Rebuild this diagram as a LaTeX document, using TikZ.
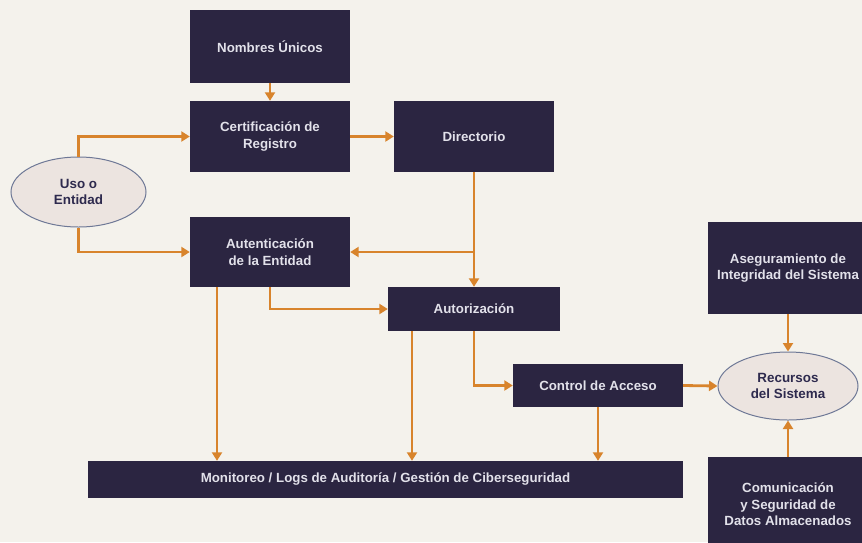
\documentclass[tikz,border=0pt]{standalone}
\usepackage{fontspec}
\setmainfont{Liberation Sans}
\usetikzlibrary{arrows.meta,shapes.geometric,calc}
\definecolor{paper}{HTML}{F4F2EC}
\definecolor{boxfill}{HTML}{2B2541}
\definecolor{boxtext}{HTML}{E2E1EA}
\definecolor{flow}{HTML}{D8842C}
\definecolor{ovalfill}{HTML}{ECE4E0}
\definecolor{ovalline}{HTML}{6E7896}
\definecolor{ovaltext}{HTML}{2E2A4E}
\tikzset{
  x=1pt, y=-1pt,
  darkbox/.style={draw=none, fill=boxfill, text=boxtext, align=center,
    font=\bfseries\fontsize{13.3}{16.5}\selectfont, inner sep=0pt},
  oval/.style={ellipse, draw=ovalline, line width=1pt, fill=ovalfill,
    text=ovaltext, align=center, inner sep=0pt,
    font=\bfseries\fontsize{13.4}{16.5}\selectfont},
  flowline/.style={draw=flow, line width=2.8pt},
  flowarrow/.style={flowline, -{Triangle[length=8.5pt,width=10pt]}},
}
\begin{document}
\begin{tikzpicture}
\fill[paper] (0,0) rectangle (862,542);
\useasboundingbox (0,0) rectangle (862,542);

% boxes
\node[darkbox, minimum width=160, minimum height=73] (nom) at (270,46.5) {Nombres Únicos};
\node[darkbox, minimum width=160, minimum height=71] (cert) at (270,136.5) {Certificación de\\Registro};
\node[darkbox, minimum width=160, minimum height=71] (dir) at (474,136.5) {Directorio};
\node[darkbox, minimum width=160, minimum height=70] (auth) at (270,252) {Autenticación\\de la Entidad};
\node[darkbox, minimum width=172, minimum height=44] (autz) at (474,309) {Autorización};
\node[darkbox, minimum width=170, minimum height=43] (ctrl) at (598,385.5) {Control de Acceso};
\node[darkbox, minimum width=595, minimum height=37] (mon) at (385.5,479.5) {Monitoreo / Logs de Auditoría / Gestión de Ciberseguridad};
\node[darkbox, minimum width=160, minimum height=92] (aseg) at (788,268) {Aseguramiento de\\Integridad del Sistema};
\node[darkbox, minimum width=160, minimum height=95] (com) at (788,504.5) {Comunicación\\y Seguridad de\\Datos Almacenados};

% ovals
\node[oval, minimum width=135, minimum height=70] (uso) at (78.5,192) {Uso o\\Entidad};
\node[oval, minimum width=140, minimum height=68] (rec) at (788,386) {Recursos\\del Sistema};

% drop points onto the monitoring bar
\coordinate (m1) at (217,0);
\coordinate (m2) at (412,0);

% connectors
\draw[flowarrow] (nom.south) -- (cert.north);
\draw[flowarrow] (uso.north) |- (cert.west);
\draw[flowarrow] (uso.south) |- (auth.west);
\draw[flowarrow] (cert.east) -- (dir.west);
\draw[flowarrow] (dir.south) -- (autz.north);
\draw[flowarrow] (dir.south |- auth.east) -- (auth.east);
\draw[flowarrow] (auth.south) |- (autz.west);
\draw[flowarrow] (m1 |- auth.south) -- (m1 |- mon.north);
\draw[flowarrow] (m2 |- autz.south) -- (m2 |- mon.north);
\draw[flowarrow] (autz.south) |- (ctrl.west);
\draw[flowarrow] (ctrl.south) -- (ctrl.south |- mon.north);
\draw[flowarrow] (ctrl.east) -- (rec.west);
\draw[flowarrow] (aseg.south) -- (rec.north);
\draw[flowarrow] (com.north) -- (rec.south);
\end{tikzpicture}
\end{document}
